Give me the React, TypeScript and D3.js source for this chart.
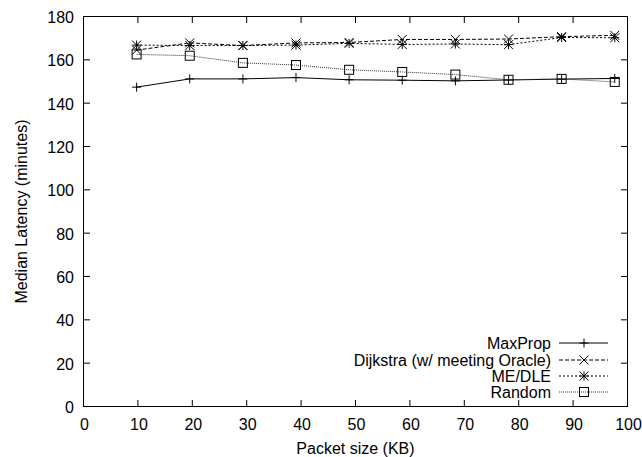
import React from "react";
import * as d3 from "d3";

const xValues = [9.766, 19.53, 29.30, 39.06, 48.83, 58.59, 68.36, 78.13, 87.89, 97.66];
const maxProp = [147.4, 151.2, 151.2, 151.8, 150.8, 150.6, 150.3, 150.7, 151.1, 151.4];
const dijkstra = [164.5, 167.8, 166.6, 167.8, 168.0, 169.4, 169.4, 169.6, 170.7, 171.3];
const meDle = [166.8, 166.6, 166.6, 166.8, 167.6, 167.1, 167.3, 167.0, 170.3, 170.2];
const random = [162.5, 161.9, 158.6, 157.6, 155.4, 154.4, 153.2, 150.8, 151.2, 149.8];
const seriesNames = ["MaxProp", "Dijkstra (w/ meeting Oracle)", "ME/DLE", "Random"];
const xTicks = [0, 10, 20, 30, 40, 50, 60, 70, 80, 90, 100];
const yTicks = [0, 20, 40, 60, 80, 100, 120, 140, 160, 180];

const W = 642, H = 457;
const L = 83.5, R = 627.5, T = 16.5, B = 406.5;
const FONT = "'Liberation Sans', Arial, Helvetica, sans-serif";
const FS = 16;

function Marker({ kind, x, y }: { kind: number; x: number; y: number }) {
  const s = 4.5;
  const st = { stroke: "#000", strokeWidth: 1, fill: "none" };
  if (kind === 0) return <path d={`M${x - s},${y}H${x + s}M${x},${y - s}V${y + s}`} {...st} />;
  if (kind === 1) return <path d={`M${x - s},${y - s}L${x + s},${y + s}M${x - s},${y + s}L${x + s},${y - s}`} {...st} />;
  if (kind === 2)
    return (
      <path
        d={`M${x - s},${y}H${x + s}M${x},${y - s}V${y + s}M${x - s},${y - s}L${x + s},${y + s}M${x - s},${y + s}L${x + s},${y - s}`}
        {...st}
      />
    );
  return <rect x={x - s} y={y - s} width={2 * s} height={2 * s} {...st} />;
}

export default function App() {
  const x = d3.scaleLinear().domain([0, 100]).range([L, R]);
  const y = d3.scaleLinear().domain([0, 180]).range([B, T]);
  const all = [maxProp, dijkstra, meDle, random];
  const dashes = [undefined, "4,2", "2,2", "1,1"];
  const colors = ["#000", "#000", "#000", "#333"];
  const line = d3
    .line<number>()
    .x((_, i) => x(xValues[i]))
    .y((d) => y(d));
  const legendY = [343, 360, 376, 392];
  const tk = 6.5;
  return (
    <svg width={W} height={H} style={{ position: "absolute", left: 0, top: 0, background: "#fff" }}>
      <rect x={0} y={0} width={W} height={H} fill="#fff" />
      {xTicks.map((t) => (
        <g key={"xt" + t}>
          <line x1={x(t)} x2={x(t)} y1={B} y2={B - tk} stroke="#000" />
          <line x1={x(t)} x2={x(t)} y1={T} y2={T + tk} stroke="#000" />
          <text x={x(t) + 1} y={429.5} textAnchor="middle" fontFamily={FONT} fontSize={FS}>
            {t}
          </text>
        </g>
      ))}
      {yTicks.map((t) => (
        <g key={"yt" + t}>
          <line x1={L} x2={L + tk} y1={y(t)} y2={y(t)} stroke="#000" />
          <line x1={R} x2={R - tk} y1={y(t)} y2={y(t)} stroke="#000" />
          <text x={74} y={y(t) + 6.5} textAnchor="end" fontFamily={FONT} fontSize={FS}>
            {t}
          </text>
        </g>
      ))}
      <rect x={L} y={T} width={R - L} height={B - T} fill="none" stroke="#000" strokeWidth={1} />
      <text x={(L + R) / 2} y={454} textAnchor="middle" fontFamily={FONT} fontSize={FS}>
        Packet size (KB)
      </text>
      <text
        transform={`translate(27,${(T + B) / 2}) rotate(-90)`}
        textAnchor="middle"
        fontFamily={FONT}
        fontSize={FS}
      >
        Median Latency (minutes)
      </text>
      {all.map((s, k) => (
        <g key={"s" + k}>
          <path d={line(s) || ""} fill="none" stroke={colors[k]} strokeWidth={1} strokeDasharray={dashes[k]} />
          {s.map((v, i) => (
            <Marker key={i} kind={k} x={x(xValues[i])} y={y(v)} />
          ))}
        </g>
      ))}
      {seriesNames.map((n, k) => (
        <g key={"l" + k}>
          <text x={551} y={legendY[k] + 5.5} textAnchor="end" fontFamily={FONT} fontSize={FS}>
            {n}
          </text>
          <line x1={559} x2={608} y1={legendY[k]} y2={legendY[k]} stroke={colors[k]} strokeDasharray={dashes[k]} />
          <Marker kind={k} x={584} y={legendY[k]} />
        </g>
      ))}
    </svg>
  );
}
